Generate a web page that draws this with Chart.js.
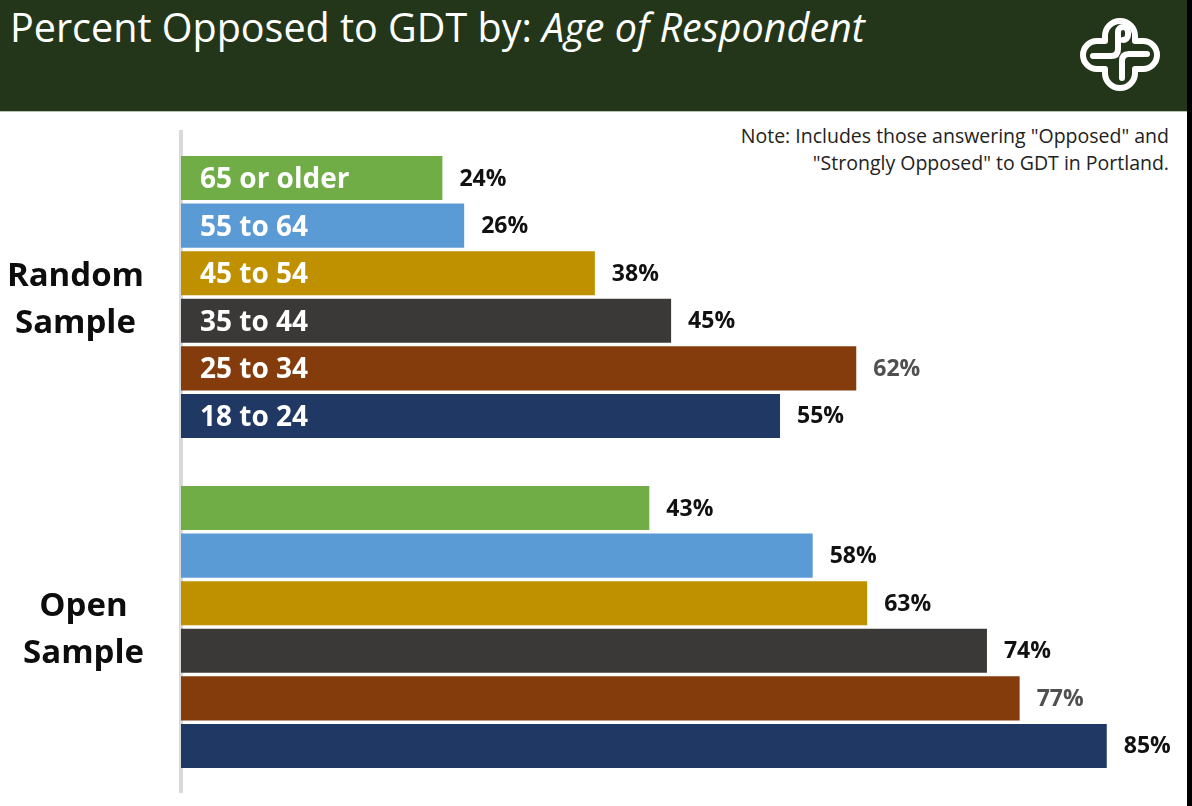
<!DOCTYPE html>
<html lang="en">
<head>
    <meta charset="UTF-8">
    <title>Percent Opposed to GDT by Age</title>
    <style>
        body {
            margin: 0;
            width: 1192px;
            height: 806px;
            position: relative;
            overflow: hidden;
            background: #ffffff;
            font-family: "Open Sans", "Noto Sans", sans-serif;
        }
        .header {
            position: absolute;
            left: 0;
            top: 0;
            width: 1192px;
            height: 111px;
            background: #243619;
            border-bottom: 1px solid #b9c1b5;
        }
        .header h1 {
            position: absolute;
            left: 10px;
            top: 0px;
            margin: 0;
            color: #ffffff;
            font-weight: 400;
            font-size: 39.5px;
            white-space: nowrap;
        }
        .header svg {
            position: absolute;
            left: 1079px;
            top: 17px;
        }
        .note {
            position: absolute;
            right: 23px;
            top: 122px;
            text-align: right;
            font-size: 19.5px;
            line-height: 27px;
            color: #222222;
        }
        .edge {
            position: absolute;
            right: 0;
            top: 0;
            width: 5px;
            height: 806px;
            background: #000000;
        }
        #chartBox {
            position: absolute;
            left: 0;
            top: 112px;
        }
    </style>
    <script src="https://cdn.jsdelivr.net/npm/chart.js"></script>
</head>
<body>
    <div class="header">
        <h1>Percent Opposed to GDT by: <i>Age of Respondent</i></h1>
        <!-- knot logo: rounded cross outline with an S / P stroke inside -->
        <svg width="82" height="74" viewBox="0 0 82 74">
            <g transform="translate(41 37)" fill="none" stroke="#ffffff" stroke-width="6" stroke-linejoin="round" stroke-linecap="round">
                <path d="M -15 -13 L -15 -18 A 15 15 0 0 1 15 -18 L 15 -13 L 23 -13 A 14 14 0 0 1 23 15 L 15 15 L 15 19 A 15 15 0 0 1 -15 19 L -15 15 L -23 15 A 14 14 0 0 1 -23 -13 Z"/>
                <path d="M -27 2 L -9 2 Q -2 2 -2 -5 L -2 -22 A 5 5 0 0 1 8 -22 L 8 -19 A 5 5 0 0 1 3 -14"/>
                <path d="M 27 0 L 9 0 Q 2 0 2 7 L 2 24"/>
            </g>
        </svg>
    </div>
    <div class="note">Note: Includes those answering "Opposed" and<br>"Strongly Opposed" to GDT in Portland.</div>
    <div id="chartBox"><canvas id="ageChart" width="1192" height="694"></canvas></div>
    <div class="edge"></div>
    <script>
        // sample groups (one line per text row) and age brackets
        const sampleGroups = [['Random', 'Sample'], ['Open', 'Sample']];
        const ageGroups = ['65 or older', '55 to 64', '45 to 54', '35 to 44', '25 to 34', '18 to 24'];

        // percent opposed, in the same order as ageGroups
        const randomSample = [24, 26, 38, 45, 62, 55];
        const openSample = [43, 58, 63, 74, 77, 85];

        const barColors = ['#70ad47', '#5b9bd5', '#bf9000', '#3b3938', '#843c0c', '#203864'];
        const valueColors = ['#111111', '#111111', '#111111', '#111111', '#505050', '#111111'];

        const FONT = '"Open Sans", "Noto Sans", sans-serif';

        // group names on the left, value labels after each bar,
        // age bracket names inside the first group's bars
        const barText = {
            id: 'barText',
            afterDatasetsDraw(chart) {
                const ctx = chart.ctx;
                const yScale = chart.scales.y;
                ctx.save();

                ctx.font = 'bold 33px ' + FONT;
                ctx.fillStyle = '#0d0d0d';
                ctx.textAlign = 'center';
                ctx.textBaseline = 'middle';
                const blockRight = 144;
                sampleGroups.forEach((lines, i) => {
                    const cy = yScale.getPixelForValue(i) + 3;
                    const w = Math.max(...lines.map(l => ctx.measureText(l).width));
                    const cx = blockRight - w / 2;
                    const lh = 47;
                    lines.forEach((line, j) => {
                        ctx.fillText(line, cx, cy + (j - (lines.length - 1) / 2) * lh);
                    });
                });

                chart.data.datasets.forEach((ds, d) => {
                    const meta = chart.getDatasetMeta(d);
                    meta.data.forEach((bar, i) => {
                        ctx.textAlign = 'left';
                        ctx.textBaseline = 'middle';
                        ctx.font = 'bold 23px ' + FONT;
                        ctx.fillStyle = valueColors[d];
                        ctx.fillText(ds.data[i] + '%', bar.x + 17, bar.y + 1);
                        if (i === 0) {
                            ctx.font = 'bold 28px ' + FONT;
                            ctx.fillStyle = '#ffffff';
                            ctx.fillText(ds.label, bar.base + 19, bar.y + 2);
                        }
                    });
                });
                ctx.restore();
            }
        };

        const ctx = document.getElementById('ageChart').getContext('2d');
        const chart = new Chart(ctx, {
            type: 'bar',
            data: {
                labels: sampleGroups.map(g => g.join(' ')),
                datasets: ageGroups.map((age, i) => ({
                    label: age,
                    data: [randomSample[i], openSample[i]],
                    backgroundColor: barColors[i],
                    borderWidth: 0,
                    categoryPercentage: 0.865,
                    barPercentage: 0.926
                }))
            },
            options: {
                indexAxis: 'y',
                responsive: false,
                animation: false,
                layout: {
                    padding: { left: 181, right: 9, top: 20, bottom: 14 }
                },
                scales: {
                    x: {
                        display: false,
                        min: 0,
                        max: 92
                    },
                    y: {
                        grid: { display: false, drawTicks: false },
                        ticks: { display: false },
                        border: { display: true, color: '#d9d9d9', width: 4 }
                    }
                },
                plugins: {
                    legend: { display: false },
                    tooltip: { enabled: false }
                }
            },
            plugins: [barText]
        });
    </script>
</body>
</html>
